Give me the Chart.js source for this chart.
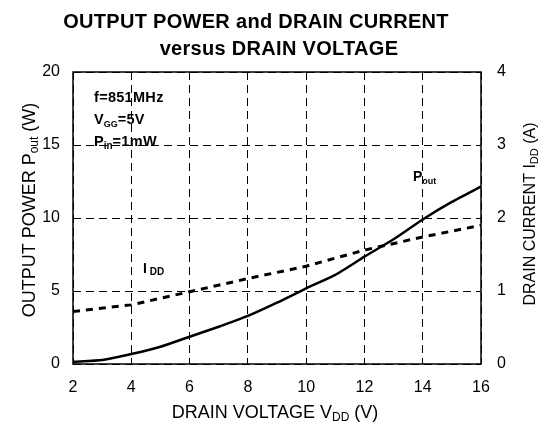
<!DOCTYPE html>
<html>
<head>
<meta charset="utf-8">
<script src="https://cdn.jsdelivr.net/npm/chart.js@4"></script>
<style>
  body { margin: 0; background: #fff; }
  #wrap { width: 549px; height: 427px; position: relative; }
</style>
</head>
<body>
<div id="wrap"><canvas id="chart"></canvas></div>
<script>
// values
const voltage = [2, 3, 4, 5, 6, 7, 8, 9, 10, 11, 12, 13, 14, 15, 16];
const pout = [0.15, 0.27, 0.68, 1.18, 1.87, 2.55, 3.29, 4.2, 5.18, 6.1, 7.35, 8.54, 9.9, 11.1, 12.15];
const iddVoltage = [2, 4, 6, 8, 10, 12, 14, 16];
const idd = [0.72, 0.81, 0.99, 1.17, 1.34, 1.56, 1.74, 1.9];

const FONT = '"Liberation Sans", Arial, sans-serif';

// parts: [text, size, dy, bold, letterSpacing]
function setFont(ctx, p) {
    ctx.font = (p[3] ? 'bold ' : '') + p[1] + 'px ' + FONT;
    ctx.letterSpacing = (p[4] || 0) + 'px';
}
function runWidth(ctx, parts) {
    let w = 0;
    parts.forEach(p => {
        setFont(ctx, p);
        w += ctx.measureText(p[0]).width;
    });
    return w;
}
function drawRun(ctx, parts, x, y) {
    parts.forEach(p => {
        setFont(ctx, p);
        ctx.fillText(p[0], x, y + p[2]);
        x += ctx.measureText(p[0]).width;
    });
    ctx.letterSpacing = '0px';
}

const textPlugin = {
    id: 'textPlugin',
    beforeDatasetsDraw(chart) {
        const { ctx, chartArea: a } = chart;
        ctx.save();
        ctx.strokeStyle = '#000';
        ctx.lineWidth = 1.5;
        ctx.setLineDash([]);
        ctx.strokeRect(a.left, a.top, a.right - a.left, a.bottom - a.top);
        ctx.restore();
    },
    afterDraw(chart) {
        const ctx = chart.ctx;
        ctx.save();
        ctx.fillStyle = '#000';
        ctx.textBaseline = 'alphabetic';
        ctx.textAlign = 'left';

        // title
        let t1 = [['OUTPUT POWER and DRAIN CURRENT', 20, 0, true, 0.3]];
        let t2 = [['versus DRAIN VOLTAGE', 20, 0, true, 0.3]];
        drawRun(ctx, t1, 256 - runWidth(ctx, t1) / 2, 28);
        drawRun(ctx, t2, 279 - runWidth(ctx, t2) / 2, 55);

        // x axis title
        let xt = [['DRAIN VOLTAGE V', 18, 0], ['DD', 12, 3], [' (V)', 18, 0]];
        drawRun(ctx, xt, 275 - runWidth(ctx, xt) / 2, 418);

        // left axis title
        let lt = [['OUTPUT POWER P', 18, 0], ['out', 12, 3], [' (W)', 18, 0]];
        ctx.save();
        ctx.translate(35, 210);
        ctx.rotate(-Math.PI / 2);
        drawRun(ctx, lt, -runWidth(ctx, lt) / 2, 0);
        ctx.restore();

        // right axis title
        let rt = [['DRAIN CURRENT I', 16, 0], ['DD', 11, 3], [' (A)', 16, 0]];
        ctx.save();
        ctx.translate(535, 214);
        ctx.rotate(-Math.PI / 2);
        drawRun(ctx, rt, -runWidth(ctx, rt) / 2, 0);
        ctx.restore();

        // conditions
        drawRun(ctx, [['f=851MHz', 14.5, 0, true, 0.3]], 94, 102);
        drawRun(ctx, [['V', 14.5, 0, true], ['GG', 9, 3, true], ['=5V', 14.5, 0, true, 0.3]], 94, 124);
        drawRun(ctx, [['P', 14.5, 0, true], ['in', 10, 3, true], ['=1mW', 14.5, 0, true, 0.3]], 94, 146);

        // curve labels
        drawRun(ctx, [['I', 14, 0, true], [' DD', 10, 2, true]], 143, 273);
        drawRun(ctx, [['P', 14, 0, true], ['out', 9, 3, true]], 413, 181);
        ctx.restore();
    }
};

const gridDash = [8, 5];

new Chart(document.getElementById('chart'), {
    type: 'line',
    data: {
        datasets: [{
            label: 'Pout',
            data: voltage.map((v, i) => ({ x: v, y: pout[i] })),
            yAxisID: 'y',
            borderColor: '#000',
            borderWidth: 2.5,
            pointRadius: 0,
            tension: 0.2,
            fill: false
        }, {
            label: 'IDD',
            data: iddVoltage.map((v, i) => ({ x: v, y: idd[i] })),
            yAxisID: 'y2',
            borderColor: '#000',
            borderWidth: 3,
            borderDash: [7, 6],
            pointRadius: 0,
            tension: 0,
            fill: false
        }]
    },
    options: {
        responsive: true,
        maintainAspectRatio: false,
        animation: false,
        layout: { padding: { top: 72, left: 0, right: 0, bottom: 0 } },
        plugins: {
            legend: { display: false },
            title: { display: false },
            tooltip: { enabled: false }
        },
        scales: {
            x: {
                type: 'linear',
                min: 2,
                max: 16,
                ticks: { stepSize: 2, color: '#000', font: { family: FONT, size: 16 }, padding: 14 },
                grid: { color: '#000', lineWidth: 1, drawTicks: false },
                border: { display: false, dash: gridDash },
                afterFit(s) { s.height = 63; }
            },
            y: {
                position: 'left',
                min: 0,
                max: 20,
                ticks: { stepSize: 5, color: '#000', font: { family: FONT, size: 16 }, padding: 13 },
                grid: { color: '#000', lineWidth: 1, drawTicks: false },
                border: { display: false, dash: gridDash },
                afterFit(s) { s.width = 73; }
            },
            y2: {
                position: 'right',
                min: 0,
                max: 4,
                ticks: { stepSize: 1, color: '#000', font: { family: FONT, size: 16 }, padding: 16 },
                grid: { drawOnChartArea: false, drawTicks: false },
                border: { display: false },
                afterFit(s) { s.width = 68; }
            }
        }
    },
    plugins: [textPlugin]
});
</script>
</body>
</html>
